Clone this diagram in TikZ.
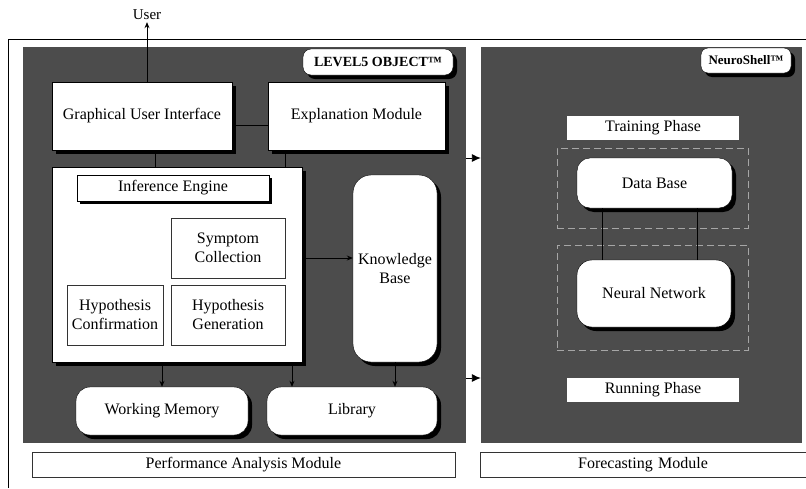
\documentclass[tikz,border=0pt]{standalone}
\usepackage{fontspec}
\setmainfont{Liberation Serif}
\usetikzlibrary{shadows,arrows.meta,calc}
\begin{document}
\begin{tikzpicture}[x=1pt,y=-1pt,
  txt/.style={font=\fontsize{16}{19}\selectfont, align=center, inner sep=2pt},
  panel/.style={fill=black!70, draw=none, inner sep=0pt},
  wbox/.style={txt, fill=white, draw=black, line width=0.4pt},
  shad/.style={drop shadow={shadow xshift=4pt, shadow yshift=-4pt, fill=black, opacity=1}},
  thinbox/.style={txt, fill=white, draw=black!80, line width=0.5pt},
  conn/.style={line width=0.9pt, draw=black},
  tip/.style={-{Stealth[length=6pt,width=5pt]}},
  bigtip/.style={-{Latex[length=9pt,width=8pt]}},
  phasebox/.style={draw=black!35, dashed, dash pattern=on 7pt off 4pt, line width=0.8pt}
]
\clip (0,0) rectangle (806,488);
\fill[white] (0,0) rectangle (806,488);

% outer frame
\coordinate (ftl) at (8,39);
\coordinate (ftr) at (806,39);
\coordinate (fbl) at (8,488);
\draw[line width=0.9pt] (fbl) -- (ftl) -- (ftr);

% panels
\node[panel, minimum width=443pt, minimum height=396pt] (lp) at (244.5,245) {};
\node[panel, minimum width=321pt, minimum height=396pt] (rp) at (641.5,245) {};

% labels of panels
\node[wbox, shad, rounded corners=8pt, minimum width=150pt, minimum height=26pt, font=\fontsize{14}{16}\selectfont\bfseries] (l5) at (378,62) {LEVEL5 OBJECT™};
\node[wbox, shad, rounded corners=7pt, minimum width=90pt, minimum height=25pt, font=\fontsize{13}{15}\selectfont\bfseries, inner sep=1pt] (ns) at (746,60.5) {NeuroShell™};

% user
\node[txt, font=\fontsize{15}{17}\selectfont] (user) at (147,15) {User};

% left panel boxes
\node[wbox, shad, minimum width=180pt, minimum height=68pt] (gui) at (142,116) {Graphical User Interface};
\node[wbox, shad, minimum width=177pt, minimum height=68pt] (expl) at (356.5,116) {Explanation Module};
\node[wbox, shad, minimum width=250pt, minimum height=195pt] (ie) at (177,264.5) {};
\node[wbox, minimum width=192pt, minimum height=26pt, drop shadow={shadow xshift=3pt, shadow yshift=-3pt, fill=black, opacity=1}] (iel) at (173,188) {Inference Engine};
\node[thinbox, minimum width=114pt, minimum height=60pt] (sym) at (228,248) {Symptom\\Collection};
\node[thinbox, minimum width=96pt, minimum height=60pt] (hc) at (115,315) {Hypothesis\\Confirmation};
\node[thinbox, minimum width=114pt, minimum height=60pt] (hg) at (228,315) {Hypothesis\\Generation};
\node[wbox, shad, rounded corners=18pt, minimum width=84pt, minimum height=187pt] (kb) at (395,268.5) {Knowledge\\Base};
\node[wbox, shad, rounded corners=14pt, minimum width=172pt, minimum height=48pt] (wm) at (162,411) {Working Memory};
\node[wbox, shad, rounded corners=14pt, minimum width=170pt, minimum height=48pt] (lib) at (352,411) {Library};

% right panel
\node[phasebox, minimum width=191pt, minimum height=80pt, inner sep=0pt] (tph) at (652.5,188) {};
\node[phasebox, minimum width=191pt, minimum height=105pt, inner sep=0pt] (rph) at (652.5,297.5) {};
\node[wbox, draw=none, minimum width=172pt, minimum height=24pt] (train) at (653,128) {Training Phase};
\node[wbox, shad, rounded corners=13pt, minimum width=155pt, minimum height=50pt] (db) at (654.5,183) {Data Base};
\node[wbox, shad, rounded corners=15pt, minimum width=154pt, minimum height=67pt] (nn) at (654,293.5) {Neural Network};
\node[wbox, draw=none, minimum width=172pt, minimum height=24pt] (run) at (653,390) {Running Phase};

% bottom module labels
\node[thinbox, minimum width=423pt, minimum height=25pt] (pam) at (243.5,464.5) {Performance Analysis Module};
\node[thinbox, minimum width=340pt, minimum height=25pt, text width=320pt] (fm) at (650,464.5) {\hspace*{-14pt}Forecasting Module\hspace*{14pt}};

% connectors
\draw[conn, tip] (gui.north -| user.south) -- (user.south);
\draw[conn] ([yshift=-9pt]gui.east) -- ([yshift=-9pt]gui.east -| expl.west);
\draw[conn] ([xshift=13pt]gui.south) -- ([xshift=13pt]gui.south |- ie.north);
\draw[conn] ([xshift=-71.5pt]expl.south) -- ([xshift=-71.5pt]expl.south |- ie.north);
\draw[conn, tip] ([yshift=6.5pt]ie.east) -- ([yshift=6.5pt]ie.east -| kb.west);
\draw[conn, tip] (wm.north |- ie.south) -- (wm.north);
\draw[conn, tip] ([xshift=-60pt]lib.north |- ie.south) -- ([xshift=-60pt]lib.north);
\draw[conn, tip] (kb.south) -- (kb.south |- lib.north);
\draw[conn, bigtip] ([yshift=87pt]lp.east) -- ([yshift=87pt]lp.east -| rp.west);
\draw[conn, bigtip] ([yshift=-133pt]lp.east) -- ([yshift=-133pt]lp.east -| rp.west);
\draw[conn] ([xshift=-52.5pt]db.south) -- ([xshift=-52.5pt]db.south |- nn.north);
\draw[conn] ([xshift=42.5pt]db.south) -- ([xshift=42.5pt]db.south |- nn.north);
\end{tikzpicture}
\end{document}
